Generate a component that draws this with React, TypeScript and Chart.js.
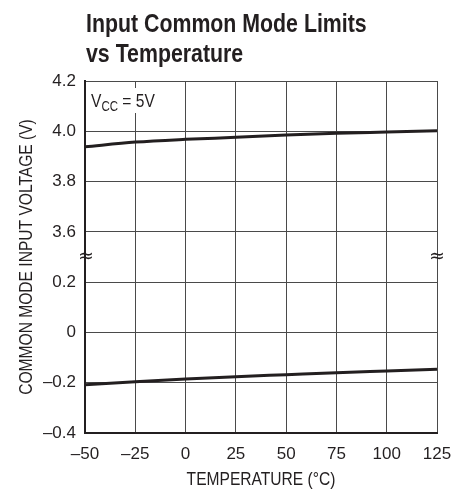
import React, { useEffect, useRef } from "react";
import { Chart, registerables } from "chart.js";

Chart.register(...registerables);

const temps = [-50, -25, 0, 25, 50, 75, 100, 125];
const upperLimit = [3.938, 3.957, 3.968, 3.976, 3.985, 3.992, 3.997, 4.002];
const lowerLimit = [-0.208, -0.196, -0.185, -0.176, -0.168, -0.16, -0.153, -0.146];
const yTickLabels = ["–0.4", "–0.2", "0", "0.2", "3.6", "3.8", "4.0", "4.2"];
const xTickLabels = ["–50", "–25", "0", "25", "50", "75", "100", "125"];
const titleLines = ["Input Common Mode Limits", "vs Temperature"];
const xTitle = "TEMPERATURE (°C)";
const yTitle = "COMMON MODE INPUT VOLTAGE (V)";

const FONT = "'Liberation Sans', Arial, sans-serif";
const INK = "#231f20";
const SQUEEZE = 0.82;

// broken axis: lower segment -0.4..0.2 -> 0..3, upper segment 3.6..4.2 -> 4..7
const toAxis = (v: number) => (v >= 2 ? 4 + (v - 3.6) / 0.2 : (v + 0.4) / 0.2);

function squeezedText(ctx: any, text: string, x: number, y: number, align: string, rot = 0) {
  ctx.save();
  ctx.translate(x, y);
  ctx.rotate(rot);
  ctx.scale(SQUEEZE, 1);
  ctx.textAlign = align;
  ctx.fillText(text, 0, 0);
  ctx.restore();
}

const overlayPlugin = {
  id: "overlay",
  afterDraw(chart: any) {
    const { ctx, chartArea } = chart;
    const ys = chart.scales.y;
    ctx.save();
    ctx.fillStyle = INK;
    // title
    ctx.font = `bold 26px ${FONT}`;
    ctx.textBaseline = "alphabetic";
    squeezedText(ctx, titleLines[0], chartArea.left + 1, 32, "left");
    squeezedText(ctx, titleLines[1], chartArea.left + 1, 62, "left");
    // axis titles
    ctx.font = `19px ${FONT}`;
    ctx.textBaseline = "middle";
    squeezedText(ctx, xTitle, (chartArea.left + chartArea.right) / 2, 480, "center");
    squeezedText(ctx, yTitle, 27, (chartArea.top + chartArea.bottom) / 2, "center", -Math.PI / 2);
    // VCC label
    ctx.fillStyle = "#ffffff";
    ctx.fillRect(chartArea.left + 3, chartArea.top + 7, 78, 25);
    ctx.fillStyle = INK;
    ctx.textBaseline = "alphabetic";
    ctx.textAlign = "left";
    ctx.font = `18px ${FONT}`;
    let x = chartArea.left + 6;
    const base = chartArea.top + 26;
    const put = (t: string, size: number, dy: number) => {
      ctx.font = `${size}px ${FONT}`;
      squeezedText(ctx, t, x, base + dy, "left");
      x += ctx.measureText(t).width * SQUEEZE;
    };
    put("V", 19, 0);
    put("CC", 14, 4);
    put(" = 5V", 19, 0);
    // break marks
    const yb = ys.getPixelForValue(3.5);
    ctx.font = `19px 'DejaVu Sans', sans-serif`;
    ctx.textAlign = "center";
    ctx.textBaseline = "middle";
    ctx.fillText("≈", chartArea.left + 1, yb);
    ctx.fillText("≈", chartArea.right, yb);
    ctx.restore();
  },
};

export default function App() {
  const ref = useRef<HTMLCanvasElement>(null);
  useEffect(() => {
    document.body.style.margin = "0";
    const chart = new Chart(ref.current as HTMLCanvasElement, {
      type: "line",
      data: {
        datasets: [
          {
            label: "Upper limit",
            data: temps.map((t, i) => ({ x: t, y: toAxis(upperLimit[i]) })),
            borderColor: INK,
            borderWidth: 3,
            pointRadius: 0,
            cubicInterpolationMode: "monotone",
          },
          {
            label: "Lower limit",
            data: temps.map((t, i) => ({ x: t, y: toAxis(lowerLimit[i]) })),
            borderColor: INK,
            borderWidth: 3,
            pointRadius: 0,
            cubicInterpolationMode: "monotone",
          },
        ],
      },
      options: {
        animation: false,
        responsive: false,
        layout: { padding: { left: 0, top: 81, right: 27, bottom: 0 } },
        plugins: { legend: { display: false }, title: { display: false }, tooltip: { enabled: false } },
        scales: {
          x: {
            type: "linear",
            min: -50,
            max: 125,
            afterBuildTicks: (s: any) => {
              s.ticks = temps.map((v) => ({ value: v }));
            },
            afterFit: (s: any) => {
              s.height = 56;
            },
            border: { color: INK, width: 2 },
            grid: { color: "#4a4a4a", lineWidth: 1, drawTicks: false },
            ticks: {
              color: INK,
              font: { family: FONT, size: 17 },
              padding: 11,
              maxRotation: 0,
              callback: (v: any) => xTickLabels[temps.indexOf(Number(v))],
            },
          },
          y: {
            type: "linear",
            min: 0,
            max: 7,
            afterBuildTicks: (s: any) => {
              s.ticks = yTickLabels.map((_, i) => ({ value: i }));
            },
            afterFit: (s: any) => {
              s.width = 85;
            },
            border: { color: INK, width: 2 },
            grid: { color: "#4a4a4a", lineWidth: 1, drawTicks: false },
            ticks: {
              color: INK,
              font: { family: FONT, size: 17 },
              padding: 9,
              callback: (v: any) => yTickLabels[Number(v)],
            },
          },
        },
      },
      plugins: [overlayPlugin],
    } as any);
    return () => chart.destroy();
  }, []);
  return (
    <div style={{ position: "relative", width: 464, height: 489 }}>
      <canvas ref={ref} width={464} height={489} style={{ display: "block" }} />
    </div>
  );
}
